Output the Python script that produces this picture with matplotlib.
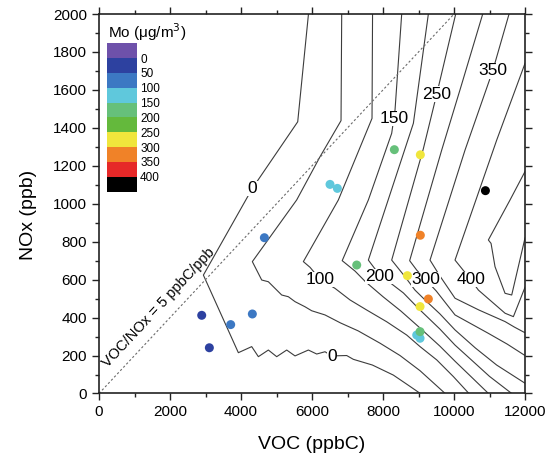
import matplotlib
matplotlib.use("Agg")
import matplotlib.pyplot as plt
from matplotlib.colors import ListedColormap, BoundaryNorm
from matplotlib.cm import ScalarMappable
from matplotlib.ticker import MultipleLocator

plt.rcParams['font.family'] = ['Liberation Sans', 'DejaVu Sans']

# ---------------- data ----------------
mo_levels = [0, 50, 100, 150, 200, 250, 300, 350, 400]
mo_bounds = [-50, 0, 50, 100, 150, 200, 250, 300, 350, 400, 450]
mo_colors = ['#6E51AA', '#2D41A0', '#3C78C3', '#5FC8DC', '#66C07A',
             '#64B93C', '#F0E63C', '#F08228', '#E62828', '#000000']

# measured points (VOC ppbC, NOx ppb, Mo ug/m3)
pt_voc = [2893, 3108, 3709, 4319, 4658, 6507, 6714, 8319, 9051, 9051,
          10884, 7259, 8686, 9277, 9043, 8949, 9043, 9043]
pt_nox = [412, 241, 363, 419, 821, 1102, 1081, 1285, 1258, 834,
          1069, 677, 621, 498, 458, 308, 291, 326]
pt_mo = [30, 40, 70, 75, 80, 120, 125, 180, 280, 330,
         430, 170, 275, 320, 285, 130, 135, 175]

# isopleth lines (VOC, NOx vertices)
c0_voc = [5900, 5597, 4319, 2940, 3925, 4301, 4489, 4770, 5005, 5287, 5521,
          5897, 6132, 6366, 6555, 6977, 7164, 7700, 8290, 8700, 9050]
c0_nox = [2000, 1432, 1081, 624, 215, 247, 194, 229, 194, 229, 198,
          229, 208, 220, 198, 200, 180, 150, 97, 45, 0]
c50_voc = [6836, 6817, 6226, 5568, 4319, 4583, 4770, 5146, 5333, 5521, 5803,
           5991, 6366, 6800, 7300, 7916, 8479, 9043, 9750]
c50_nox = [2000, 1438, 1248, 1020, 695, 598, 589, 519, 510, 484, 457,
           436, 414, 372, 330, 265, 200, 120, 0]
c100_voc = [7705, 7690, 6742, 5756, 5944, 6226, 6648, 7070, 7540, 8104, 8667,
            9043, 9513, 9982, 10420]
c100_nox = [2000, 1450, 1020, 695, 665, 602, 554, 493, 440, 378, 308,
            247, 177, 89, 0]
c150_voc = [8526, 8338, 8244, 7587, 6850, 7212, 7500, 8000, 8500, 9043, 9600,
            10028, 10500, 10970]
c150_nox = [2000, 1494, 1371, 1020, 700, 645, 590, 510, 435, 345, 250,
            170, 85, 0]
c200_voc = [9277, 8855, 7587, 7760, 7916, 8100, 8573, 9043, 9600, 10028,
            10500, 11000, 11625]
c200_nox = [2000, 1424, 703, 660, 625, 598, 530, 440, 340, 255,
            175, 90, 0]
c250_voc = [10047, 9513, 9136, 8244, 8600, 8900, 9200, 9600, 10028, 10600,
            11200, 11700, 12000]
c250_nox = [2000, 1578, 1290, 703, 620, 545, 490, 420, 335, 240,
            150, 90, 54]
c300_voc = [10808, 10200, 9653, 8750, 8950, 9212, 9500, 10028, 10967, 11500,
            12000]
c300_nox = [2000, 1620, 1283, 700, 650, 598, 540, 414, 317, 260,
            200]
c350_voc = [11550, 11090, 10310, 9324, 9600, 10028, 10700, 11437, 11700, 12000]
c350_nox = [2000, 1701, 1283, 703, 620, 502, 440, 379, 350, 320]
c400_voc = [12000, 11203, 10028, 10300, 10470, 10686, 11437, 11672, 12000]
c400_nox = [1740, 1336, 703, 640, 600, 545, 423, 405, 560]
c450_voc = [12000, 11578, 10967, 11043, 11155, 11437, 11625, 12000]
c450_nox = [1170, 1020, 809, 791, 668, 528, 519, 820]

iso_lines = [(c0_voc, c0_nox), (c50_voc, c50_nox), (c100_voc, c100_nox),
             (c150_voc, c150_nox), (c200_voc, c200_nox), (c250_voc, c250_nox),
             (c300_voc, c300_nox), (c350_voc, c350_nox), (c400_voc, c400_nox),
             (c450_voc, c450_nox)]

lab_text = ['0', '0', '100', '150', '200', '250', '300', '350', '400']
lab_voc = [4319, 6555, 6226, 8310, 7916, 9521, 9212, 11090, 10470]
lab_nox = [1081, 196, 600, 1450, 616, 1578, 600, 1701, 600]

ref_ratio = 5
ref_nox = [0, 2000]

# ---------------- figure ----------------
fig = plt.figure(figsize=(5.55, 4.55), dpi=100)
ax = fig.add_axes([0.1784, 0.1352, 0.7676, 0.834])

for vx, ny in iso_lines:
    ax.plot(vx, ny, color='#3c3c3c', lw=0.8, zorder=2)

ax.plot([ref_ratio * n for n in ref_nox], ref_nox, color='#6a6a6a', lw=0.8,
        ls=(0, (2, 2)), zorder=2)
ax.text(1690, 454, 'VOC/NOx = 5 ppbC/ppb', rotation=47, ha='center',
        va='center', fontsize=10.5, rotation_mode='anchor', zorder=3)

for t, vx, ny in zip(lab_text, lab_voc, lab_nox):
    ax.text(vx, ny, t, ha='center', va='center', fontsize=12.5, zorder=4,
            bbox=dict(facecolor='white', edgecolor='none', pad=0.2))

cmap = ListedColormap(mo_colors)
norm = BoundaryNorm(mo_bounds, cmap.N)
ax.scatter(pt_voc, pt_nox, c=pt_mo, cmap=cmap, norm=norm, s=42,
           edgecolors='none', zorder=5)

ax.set_xlim(0, 12000)
ax.set_ylim(0, 2000)
ax.xaxis.set_major_locator(MultipleLocator(2000))
ax.xaxis.set_minor_locator(MultipleLocator(1000))
ax.yaxis.set_major_locator(MultipleLocator(200))
ax.yaxis.set_minor_locator(MultipleLocator(100))
ax.tick_params(which='both', direction='out', top=True, right=True,
               labeltop=False, labelright=False, width=1.0, colors='#222222',
               labelcolor='black')
ax.tick_params(which='major', length=5, labelsize=11, pad=3.5)
ax.tick_params(which='minor', length=3)
for sp in ax.spines.values():
    sp.set_linewidth(1.2)
    sp.set_color('#222222')

ax.set_xlabel('VOC (ppbC)', fontsize=14)
ax.set_ylabel('NOx (ppb)', fontsize=14)
ax.xaxis.set_label_coords(0.499, -0.112)
ax.yaxis.set_label_coords(-0.146, 0.47)

# legend (colour key)
cax = ax.inset_axes([0.018, 0.532, 0.0718, 0.391])
cb = fig.colorbar(ScalarMappable(norm=norm, cmap=cmap), cax=cax,
                  ticks=mo_levels)
cb.outline.set_visible(False)
cax.minorticks_off()
cax.invert_yaxis()
cax.tick_params(which='both', length=0, labelsize=8.5, pad=2)
ax.text(0.021, 0.9515, 'Mo (μg/m$^3$)', transform=ax.transAxes,
        ha='left', va='center', fontsize=11)

fig.savefig('out.png', dpi=100)
